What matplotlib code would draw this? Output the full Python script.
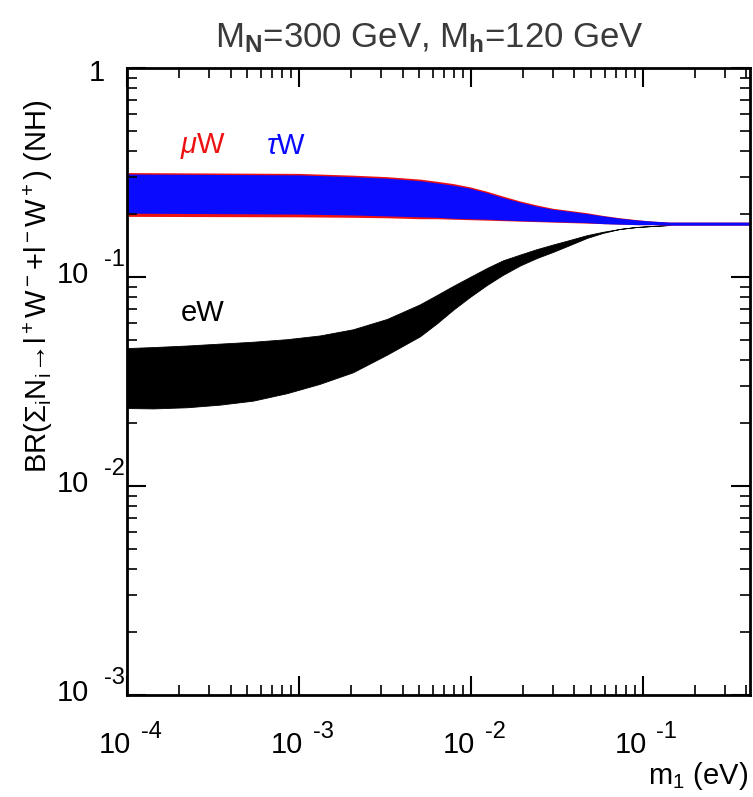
import math
import matplotlib
matplotlib.use("Agg")
import matplotlib.pyplot as plt
from matplotlib.ticker import FixedLocator, LogLocator, NullFormatter
from matplotlib.transforms import blended_transform_factory, offset_copy

plt.rcParams['font.family'] = ['Liberation Sans', 'DejaVu Sans']
plt.rcParams['mathtext.fontset'] = 'custom'
plt.rcParams['mathtext.rm'] = 'Liberation Sans'
plt.rcParams['mathtext.it'] = 'Liberation Sans:italic'
plt.rcParams['mathtext.bf'] = 'Liberation Sans:bold'

# tau W / mu W band (upper and lower edges)
m1_tw = [1e-4, 1e-3, 2.06e-3, 3.25e-3, 5.05e-3, 6.34e-3, 7.85e-3, 9.86e-3, 1.24e-2,
         1.53e-2, 1.93e-2, 2.42e-2, 3.0e-2, 3.77e-2, 4.72e-2, 5.85e-2, 7.35e-2,
         9.2e-2, 0.114, 0.144, 0.42]
tau_hi = [0.311, 0.308, 0.302, 0.297, 0.289, 0.282, 0.275, 0.266, 0.253, 0.240,
          0.228, 0.218, 0.211, 0.206, 0.201, 0.196, 0.191, 0.1875, 0.185, 0.183, 0.183]
tau_lo = [0.202, 0.200, 0.198, 0.196, 0.194, 0.193, 0.191, 0.190, 0.189, 0.1875,
          0.186, 0.185, 0.184, 0.183, 0.182, 0.180, 0.179, 0.178, 0.178, 0.177, 0.177]
mu_hi = [0.316, 0.313, 0.307, 0.302, 0.294, 0.287, 0.280, 0.270, 0.257, 0.244,
         0.231, 0.221, 0.213, 0.208, 0.203, 0.197, 0.192, 0.188, 0.185, 0.183, 0.183]
mu_lo = [0.195, 0.194, 0.193, 0.192, 0.190, 0.190, 0.189, 0.188, 0.187, 0.186,
         0.185, 0.184, 0.183, 0.182, 0.181, 0.180, 0.179, 0.178, 0.178, 0.177, 0.177]

# e W band
m1_ew = [1e-4, 1.42e-4, 2.23e-4, 3.47e-4, 5.4e-4, 8.51e-4, 1.32e-3, 2.06e-3, 3.25e-3,
         5.05e-3, 6.34e-3, 7.85e-3, 9.86e-3, 1.24e-2, 1.53e-2, 1.93e-2, 2.42e-2,
         3.0e-2, 3.77e-2, 4.72e-2, 5.85e-2, 7.35e-2, 9.2e-2, 0.114, 0.144]
e_hi = [0.0457, 0.0462, 0.0470, 0.0480, 0.0490, 0.0504, 0.0525, 0.0562, 0.0630,
        0.0740, 0.0820, 0.0905, 0.1000, 0.1105, 0.1200, 0.1280, 0.1360, 0.1430,
        0.1505, 0.1585, 0.1645, 0.1698, 0.1735, 0.1754, 0.1774]
e_lo = [0.0236, 0.0235, 0.0238, 0.0245, 0.0256, 0.0278, 0.0308, 0.0350, 0.0425,
        0.0520, 0.0600, 0.0695, 0.0802, 0.0916, 0.1022, 0.1135, 0.1233, 0.1318,
        0.1423, 0.1537, 0.1625, 0.1698, 0.1735, 0.1754, 0.1774]

x_ticks = [1e-4, 1e-3, 1e-2, 1e-1]
y_ticks = [1e-3, 1e-2, 1e-1, 1]

fig = plt.figure(figsize=(7.53, 7.97), dpi=100)
ax = fig.add_axes([0.1687, 0.128, 0.8274, 0.7867])

ax.fill_between(m1_ew, e_lo, e_hi, color="black", lw=0.6, edgecolor="black")
ax.fill_between(m1_tw, mu_lo, mu_hi, color="#ee1111", lw=0)
ax.fill_between(m1_tw, tau_lo, tau_hi, color="#0a0aff", lw=0)

ax.set_xscale("log")
ax.set_yscale("log")
ax.set_xlim(1e-4, 0.42)
ax.set_ylim(1e-3, 1)

ax.xaxis.set_major_locator(FixedLocator(x_ticks))
ax.yaxis.set_major_locator(FixedLocator(y_ticks))
for a in (ax.xaxis, ax.yaxis):
    a.set_minor_locator(LogLocator(base=10, subs=range(2, 10), numticks=20))
    a.set_minor_formatter(NullFormatter())
    a.set_major_formatter(NullFormatter())

ax.tick_params(which="both", direction="in", top=True, right=True)
ax.tick_params(which="major", length=14, width=1.5)
ax.tick_params(which="minor", length=7, width=1.2)
for s in ax.spines.values():
    s.set_linewidth(2)

# tick labels: "10" with a raised exponent, as in the original
tx = blended_transform_factory(ax.transData, ax.transAxes)
ty = blended_transform_factory(ax.transAxes, ax.transData)
for v in x_ticks:
    e = int(round(math.log10(v)))
    ax.text(v, 0, "10", fontsize=21, ha="center", va="center",
            transform=offset_copy(tx, fig, x=-12, y=-50, units="dots"))
    ax.text(v, 0, "-%d" % -e, fontsize=17, ha="center", va="center",
            transform=offset_copy(tx, fig, x=24, y=-37, units="dots"))
for v in y_ticks:
    if v >= 1:
        ax.text(0, v, "1", fontsize=21, ha="center", va="center",
                transform=offset_copy(ty, fig, x=-30, y=-5, units="dots"))
        continue
    e = int(round(math.log10(v)))
    ax.text(0, v, "10", fontsize=21, ha="center", va="center",
            transform=offset_copy(ty, fig, x=-54, y=2, units="dots"))
    ax.text(0, v, "-%d" % -e, fontsize=17, ha="center", va="center",
            transform=offset_copy(ty, fig, x=-13, y=17, units="dots"))

ax.text(2.77e-4, 0.423, r'$\mu$W', color="#ee1111", fontsize=21, ha="center", va="center")
ax.text(8.4e-4, 0.423, r'$\tau$W', color="#0a0aff", fontsize=21, ha="center", va="center")
ax.text(2.77e-4, 0.0673, 'eW', color="black", fontsize=21, ha="center", va="center")

fig.text(0.571, 1 - 47 / 797, r'M$_\mathbf{N}$=300 GeV, M$_\mathbf{h}$=120 GeV',
         fontsize=25, color="#3a3a3a", ha="center", va="baseline")
fig.text(0.05, 0.64,
         r'BR($\Sigma_\mathregular{i}$N$_\mathregular{i}$→l$^+$W$^-$+l$^-$W$^+$) (NH)',
         fontsize=21, rotation=90, ha="center", va="center")
fig.text(0.993, 0.026, r'm$_\mathregular{1}$ (eV)', fontsize=21, ha="right", va="center")

fig.savefig("out.png", dpi=100)
